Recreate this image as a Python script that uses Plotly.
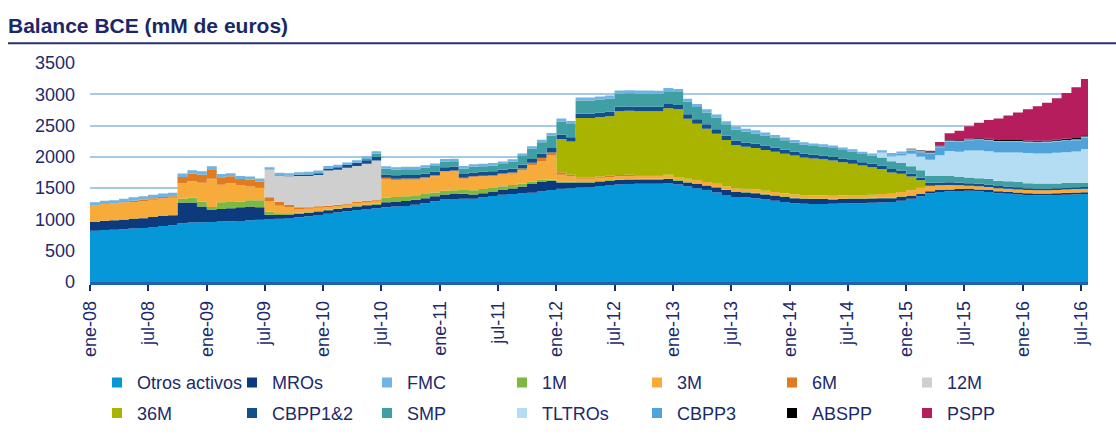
import plotly.graph_objects as go
import pandas as pd

# ---------------- data (mM de euros), monthly levels Jan-2008 .. Aug-2016 ----------------
dates = pd.date_range("2008-01-01", periods=104, freq="MS")

otros_activos = [
    820, 830, 835, 845, 855, 865, 880, 895, 905, 940, 950, 955,
    960, 965, 970, 975, 985, 995, 1005, 1010, 1020, 1035, 1050, 1070,
    1090, 1110, 1130, 1150, 1165, 1180, 1195, 1205, 1215, 1235, 1260, 1290,
    1320, 1325, 1330, 1330, 1350, 1375, 1395, 1405, 1415, 1425, 1445, 1470,
    1490, 1500, 1510, 1520, 1535, 1550, 1560, 1565, 1570, 1570, 1570, 1575,
    1560, 1530, 1500, 1470, 1430, 1390, 1360, 1350, 1340, 1320, 1300, 1280,
    1260, 1250, 1245, 1245, 1250, 1255, 1260, 1260, 1265, 1270, 1280, 1300,
    1330, 1370, 1420, 1440, 1450, 1455, 1460, 1450, 1440, 1420, 1410, 1400,
    1390, 1385, 1385, 1390, 1395, 1400, 1405, 1410]

mros = [
    140, 150, 150, 150, 155, 155, 160, 160, 160, 330, 320, 250,
    200, 200, 210, 220, 220, 200, 70, 60, 60, 55, 55, 55,
    55, 55, 55, 55, 60, 60, 80, 80, 80, 80, 80, 80,
    80, 80, 80, 70, 70, 70, 75, 90, 110, 140, 160, 150,
    100, 90, 80, 70, 70, 70, 70, 70, 70, 70, 70, 70,
    60, 60, 70, 70, 80, 80, 80, 80, 80, 80, 80, 80,
    80, 80, 80, 80, 70, 70, 70, 70, 70, 70, 60, 60,
    50, 40, 30, 30, 30, 30, 30, 30, 30, 30, 30, 30,
    30, 30, 30, 30, 30, 30, 30, 30]

fmc = [
    55, 55, 55, 55, 55, 55, 55, 55, 55, 55, 55, 55,
    50, 50, 50, 50, 50, 50, 40, 40, 40, 40, 40, 40,
    40, 40, 40, 40, 40, 40, 40, 40, 40, 40, 40, 40,
    40, 40, 40, 40, 40, 40, 40, 40, 40, 40, 40, 40,
    50, 50, 50, 50, 50, 50, 50, 50, 50, 50, 50, 50,
    50, 50, 50, 50, 50, 50, 50, 50, 50, 50, 45, 45,
    40, 40, 40, 40, 40, 40, 35, 35, 35, 35, 35, 35,
    25, 20, 15, 15, 15, 15, 15, 15, 15, 15, 15, 15,
    15, 15, 15, 15, 15, 15, 15, 15]

lp_1m = [
    0, 0, 0, 0, 0, 0, 0, 0, 0, 60, 80, 80,
    40, 110, 100, 90, 100, 110, 50, 30, 20, 15, 10, 10,
    10, 10, 10, 10, 10, 10, 70, 75, 75, 70, 65, 60,
    60, 60, 60, 65, 65, 60, 60, 55, 50, 40, 30, 20,
    15, 15, 10, 10, 10, 10, 10, 10, 10, 10, 10, 10,
    10, 10, 10, 10, 10, 10, 10, 10, 10, 10, 10, 10,
    10, 10, 10, 10, 10, 10, 10, 10, 10, 10, 10, 10,
    5, 5, 0, 0, 0, 0, 0, 0, 0, 0, 0, 0,
    0, 0, 0, 0, 0, 0, 0, 0]

lp_3m = [
    260, 265, 265, 270, 270, 275, 275, 280, 280, 250, 260, 300,
    450, 280, 300, 260, 220, 200, 160, 120, 90, 60, 55, 50,
    45, 40, 40, 45, 45, 50, 300, 270, 265, 250, 250, 260,
    300, 300, 180, 210, 200, 190, 190, 180, 210, 260, 300, 380,
    110, 80, 50, 50, 50, 50, 50, 50, 50, 50, 50, 50,
    50, 50, 50, 50, 50, 50, 50, 50, 50, 50, 50, 50,
    50, 50, 50, 50, 50, 50, 50, 50, 50, 55, 60, 70,
    80, 90, 90, 75, 70, 60, 50, 50, 50, 50, 50, 50,
    50, 50, 50, 50, 55, 55, 55, 55]

lp_6m = [
    0, 0, 0, 10, 20, 20, 25, 25, 25, 100, 120, 130,
    150, 120, 110, 100, 110, 100, 70, 60, 40, 30, 25, 25,
    20, 20, 20, 20, 20, 20, 20, 20, 20, 20, 20, 15,
    15, 15, 15, 15, 15, 15, 15, 20, 30, 40, 50, 50,
    40, 30, 20, 20, 20, 20, 20, 20, 10, 10, 10, 10] + [0] * 44

lp_12m = [0] * 18 + [
    440, 420, 460, 500, 500, 500,
    560, 560, 570, 575, 590, 620] + [0] * 74

lp_36m = [0] * 48 + [
    530, 530, 950, 950, 950, 950, 1020, 1020, 1020, 1020, 1020, 1060,
    1080, 960, 900, 850, 800, 740, 690, 670, 660, 650, 640, 630,
    620, 600, 590, 575, 560, 530, 500, 470, 440, 400, 340, 290,
    220, 120] + [0] * 18

cbpp12 = [0] * 19 + [
    5, 10, 20, 25, 30,
    35, 40, 45, 50, 55, 60, 55, 55, 55, 55, 60, 60,
    60, 60, 60, 60, 60, 60, 60, 60, 60, 60, 65, 70,
    70, 70, 70, 70, 70, 70, 70, 70, 70, 70, 70, 70,
    70, 70, 70, 70, 70, 70, 70, 70, 70, 70, 70, 65,
    65, 65, 60, 60, 60, 60, 60, 55, 55, 55, 55, 50,
    50, 45, 45, 45, 45, 40, 40, 40, 40, 35, 35, 35,
    30, 30, 30, 30, 30, 30, 30, 30]

smp = [0] * 28 + [
    20, 50, 90, 90, 90, 90, 90, 90,
    90, 90, 90, 90, 90, 90, 90, 110, 140, 165, 185, 200,
    210, 210, 210, 210, 210, 210, 210, 210, 210, 210, 205, 205,
    205, 200, 195, 190, 185, 180, 175, 170, 165, 160, 155, 150,
    145, 140, 140, 140, 140, 135, 135, 130, 130, 125, 125, 120,
    115, 115, 110, 105, 100, 95, 90, 90, 90, 85, 85, 85,
    80, 80, 80, 75, 75, 70, 65, 65]

tltros = [0] * 81 + [
    80, 80, 120, 200, 220, 260, 330, 400, 400, 430, 440, 440,
    450, 460, 470, 480, 480, 480, 490, 490, 500, 540, 550]

cbpp3 = [0] * 81 + [
    5, 15, 30, 50, 70, 100, 130, 150, 160, 165, 170, 170,
    170, 170, 170, 170, 172, 175, 178, 180, 182, 185, 185]

abspp = [0] * 83 + [
    2, 3, 5, 6, 7, 8, 9, 10, 12, 13, 14, 15, 15, 16, 17, 18, 19, 19, 20, 20, 20]

pspp = [0] * 86 + [
    20, 60, 110, 155, 200, 250, 300, 345, 390, 440, 500, 550,
    600, 660, 730, 810, 900, 950]

tick_labels = ["ene-08", "jul-08", "ene-09", "jul-09", "ene-10", "jul-10",
               "ene-11", "jul-11", "ene-12", "jul-12", "ene-13", "jul-13",
               "ene-14", "jul-14", "ene-15", "jul-15", "ene-16", "jul-16"]
tick_dates = pd.date_range("2008-01-01", "2016-07-01", freq="6MS")

# name, values, colour  (stacking order, bottom -> top)
stack = [
    ("Otros activos", otros_activos, "#0597d7"),
    ("MROs", mros, "#0c3a7d"),
    ("1M", lp_1m, "#7cb940"),
    ("3M", lp_3m, "#f6ab3a"),
    ("6M", lp_6m, "#e07b20"),
    ("12M", lp_12m, "#cfcfcf"),
    ("36M", lp_36m, "#a8b400"),
    ("CBPP1&2", cbpp12, "#114f8e"),
    ("SMP", smp, "#3f9fa3"),
    ("TLTROs", tltros, "#b4dcf3"),
    ("CBPP3", cbpp3, "#4fa3d9"),
    ("FMC", fmc, "#6fb4e2"),
    ("ABSPP", abspp, "#000000"),
    ("PSPP", pspp, "#b51d5c"),
]
colors = {n: c for n, _, c in stack}
legend_row1 = ["Otros activos", "MROs", "FMC", "1M", "3M", "6M", "12M"]
legend_row2 = ["36M", "CBPP1&2", "SMP", "TLTROs", "CBPP3", "ABSPP", "PSPP"]

for n, v, c in stack:
    assert len(v) == len(dates), (n, len(v))

TXT = "#1b2a6b"
FONT = "Liberation Sans, Arial, sans-serif"

fig = go.Figure()
for name, vals, col in stack:
    fig.add_trace(go.Scatter(
        x=dates, y=vals, name=name, stackgroup="bce", mode="lines",
        line=dict(width=0, shape="hv", color=col), fillcolor=col,
        showlegend=False, legendgroup=name,
        hovertemplate=name + ": %{y}<extra></extra>"))

for lg, names in (("legend", legend_row1), ("legend2", legend_row2)):
    for name in names:
        fig.add_trace(go.Scatter(
            x=[None], y=[None], mode="markers", name=name, legend=lg,
            legendgroup=name,
            marker=dict(symbol="square", size=10, color=colors[name])))

W, H = 1116, 439
L, R, T, B = 90, 28, 63, 157
pw, ph = W - L - R, H - T - B

legend_common = dict(orientation="h", xref="container", yref="container",
                     xanchor="left", yanchor="middle", entrywidth=90,
                     entrywidthmode="pixels", bgcolor="rgba(0,0,0,0)",
                     font=dict(size=18, color=TXT, family=FONT),
                     itemclick=False, itemdoubleclick=False)

fig.update_layout(
    width=W, height=H,
    margin=dict(l=L, r=R, t=T, b=B, autoexpand=False),
    paper_bgcolor="white", plot_bgcolor="white",
    font=dict(family=FONT, color=TXT, size=18),
    title=dict(text="<b>Balance BCE (mM de euros)</b>",
               font=dict(size=21, color="#1c2766", family=FONT),
               xref="container", yref="container",
               x=8 / W, xanchor="left", y=1 - 26 / H, yanchor="middle"),
    legend=dict(x=97 / W, y=1 - 382.7 / H, **legend_common),
    legend2=dict(x=97 / W, y=1 - 413.3 / H, **legend_common),
    xaxis=dict(type="date", range=["2008-01-01", "2016-07-23"],
               tickvals=list(tick_dates), ticktext=tick_labels,
               tickangle=-90, tickfont=dict(size=18, color=TXT),
               ticks="outside", ticklen=6, tickwidth=1.5, tickcolor=TXT,
               ticklabelstandoff=3, automargin=False,
               showgrid=False, showline=True, linecolor="#1f63b0",
               linewidth=2.5, zeroline=False),
    yaxis=dict(range=[0, 3500], dtick=500, tickfont=dict(size=18, color=TXT),
               showgrid=True, gridcolor="#a3cbe6", gridwidth=1.5,
               zeroline=False, showline=False, ticks="",
               ticklabelstandoff=14, automargin=False),
    shapes=[dict(type="line", xref="paper", yref="paper",
                 x0=(8 - L) / pw, x1=(W - L) / pw,
                 y0=(H - B - 43.3) / ph, y1=(H - B - 43.3) / ph,
                 line=dict(color="#26307a", width=2))],
)

fig.write_html("out.html",
               config={"displayModeBar": False},
               post_script="document.body.style.margin='0px';")
